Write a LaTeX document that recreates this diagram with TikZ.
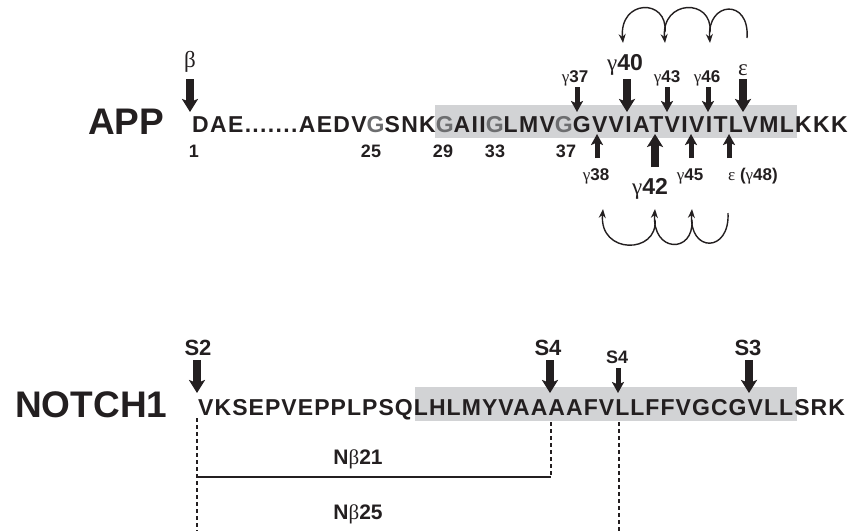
\documentclass[tikz,border=0pt]{standalone}
\usepackage{fontspec}
\setmainfont{Liberation Sans}
\newfontfamily\appfont[LetterSpace=5.8]{Liberation Sans}
\newfontfamily\notchfont[LetterSpace=4.6]{Liberation Sans}
\newfontfamily\grk{Liberation Serif}
\usetikzlibrary{arrows.meta}
\definecolor{tmd}{HTML}{D2D3D5}
\definecolor{glyc}{HTML}{6D6E70}
\definecolor{ink}{HTML}{231F20}
\newcommand{\gam}{{\grk\mdseries γ}}

\begin{document}
\begin{tikzpicture}[x=1pt,y=1pt,color=ink,
  seq/.style={anchor=base west,inner sep=0pt},
  prot/.style={anchor=base west,inner sep=0pt,font=\bfseries\fontsize{37}{37}\selectfont},
  num/.style={anchor=base,inner sep=0pt,font=\bfseries\fontsize{18}{18}\selectfont},
  lab/.style={anchor=base,inner sep=0pt,font=\bfseries\fontsize{17}{17}\selectfont},
  biglab/.style={anchor=base,inner sep=0pt,font=\bfseries\fontsize{23}{23}\selectfont},
  slab/.style={anchor=base,inner sep=0pt,font=\bfseries\fontsize{22}{22}\selectfont},
  bigcut/.style={line width=8pt,-{Stealth[length=13pt,width=16pt,inset=3pt]}},
  cut/.style={line width=5pt,-{Stealth[length=11pt,width=12pt,inset=2.5pt]}},
  loop/.style={line width=1.4pt,-{Stealth[length=9pt,width=7pt]}},
  frag/.style={line width=1.1pt,dash pattern=on 4pt off 3pt}]
  \useasboundingbox (0,0) rectangle (850,-531);

  % APP
  \fill[tmd] (435,-105) rectangle (797,-138);
  \node[prot] (app) at (88,-134) {APP};
  \node[seq,font=\appfont\bfseries\fontsize{23}{23}\selectfont] (appseq) at (192,-132) {DAE.......AEDV\textcolor{glyc}{G}SNK\textcolor{glyc}{G}AII\textcolor{glyc}{G}LMV\textcolor{glyc}{G}GVVIATVIVITLVMLKKK};
  \foreach \x/\n in {194/1,371/25,443/29,495/33,566/37}
    \node[num] (n\n) at (\x,-157) {\n};

  % cleavage sites above
  \node[anchor=base,inner sep=0pt,font=\grk\fontsize{23}{23}\selectfont] (beta) at (190,-67) {β};
  \node[lab] (g37) at (575,-82) {\gam37};
  \node[biglab] (g40) at (625,-70) {\gam40};
  \node[lab] (g43) at (667,-82) {\gam43};
  \node[lab] (g46) at (707,-82) {\gam46};
  \node[anchor=base,inner sep=0pt,font=\grk\fontsize{23}{23}\selectfont] (eps) at (743,-75) {ε};
  \coordinate (beta0) at (190,-79);   \coordinate (beta1) at (190,-112);
  \coordinate (g37a) at (577,-87);    \coordinate (g37b) at (577,-112);
  \coordinate (g40a) at (627,-79);    \coordinate (g40b) at (627,-112);
  \coordinate (g43a) at (667,-87);    \coordinate (g43b) at (667,-112);
  \coordinate (g46a) at (708,-87);    \coordinate (g46b) at (708,-112);
  \coordinate (epsa) at (743,-79);    \coordinate (epsb) at (743,-112);
  \draw[bigcut] (beta0) -- (beta1);
  \draw[cut] (g37a) -- (g37b);
  \draw[bigcut] (g40a) -- (g40b);
  \draw[cut] (g43a) -- (g43b);
  \draw[cut] (g46a) -- (g46b);
  \draw[bigcut] (epsa) -- (epsb);

  % cleavage sites below
  \node[lab] (g38) at (596,-180) {\gam38};
  \node[biglab] (g42) at (650,-194) {\gam42};
  \node[lab] (g45) at (690,-180) {\gam45};
  \node[lab] (g48) at (753,-180) {{\grk\mdseries ε} (\gam48)};
  \coordinate (g38a) at (597,-158);   \coordinate (g38b) at (597,-134);
  \coordinate (g42a) at (655,-167);   \coordinate (g42b) at (655,-134);
  \coordinate (g45a) at (691,-158);   \coordinate (g45b) at (691,-134);
  \coordinate (g48a) at (729,-158);   \coordinate (g48b) at (729,-134);
  \draw[cut] (g38a) -- (g38b);
  \draw[bigcut] (g42a) -- (g42b);
  \draw[cut] (g45a) -- (g45b);
  \draw[cut] (g48a) -- (g48b);

  % product lines, long
  \coordinate (t0) at (747,-38);
  \coordinate (t1) at (710,-43);  \coordinate (t1s) at (710,-32);
  \coordinate (t2) at (665,-43);  \coordinate (t2s) at (665,-32);
  \coordinate (t3) at (623,-43);
  \draw[loop] (t0) .. controls +(3,40) and +(-3,42) .. (t1);
  \draw[loop] (t1s) .. controls +(3,34) and +(-4,44) .. (t2);
  \draw[loop] (t2s) .. controls +(3,34) and +(-4,44) .. (t3);

  % product lines, short
  \coordinate (b0) at (728,-213);
  \coordinate (b1) at (692,-209);  \coordinate (b1s) at (692,-220);
  \coordinate (b2) at (655,-209);  \coordinate (b2s) at (655,-220);
  \coordinate (b3) at (603,-209);
  \draw[loop] (b0) .. controls +(2,-40) and +(-3,-44) .. (b1);
  \draw[loop] (b1s) .. controls +(2,-34) and +(-3,-44) .. (b2);
  \draw[loop] (b2s) .. controls +(3,-34) and +(-4,-46) .. (b3);

  % NOTCH1
  \fill[tmd] (415,-387) rectangle (797,-421);
  \node[prot] (notch) at (15,-417) {NOTCH1};
  \node[seq,font=\notchfont\bfseries\fontsize{23}{23}\selectfont] (notchseq) at (198,-415) {VKSEPVEPPLPSQLHLMYVAAAAFVLLFFVGCGVLLSRK};
  \node[slab] (s2) at (198,-355) {S2};
  \node[slab] (s4) at (548,-355) {S4};
  \node[anchor=base,inner sep=0pt,font=\bfseries\fontsize{18}{18}\selectfont] (s4b) at (617,-363) {S4};
  \node[slab] (s3) at (748,-355) {S3};
  \coordinate (s2a) at (197,-360);  \coordinate (s2b) at (197,-393);
  \coordinate (s4a) at (550,-360);  \coordinate (s4b0) at (550,-393);
  \coordinate (s5a) at (618,-368);  \coordinate (s5b) at (618,-393);
  \coordinate (s3a) at (749,-360);  \coordinate (s3b) at (749,-393);
  \draw[bigcut] (s2a) -- (s2b);
  \draw[bigcut] (s4a) -- (s4b0);
  \draw[cut] (s5a) -- (s5b);
  \draw[bigcut] (s3a) -- (s3b);

  % fragments
  \coordinate (f0) at (197,-418);  \coordinate (f0e) at (197,-531);
  \coordinate (f1) at (551,-422);  \coordinate (f1e) at (551,-477);
  \coordinate (f2) at (619,-422);  \coordinate (f2e) at (619,-531);
  \coordinate (f0m) at (197,-477);
  \draw[frag] (f0) -- (f0e);
  \draw[frag] (f1) -- (f1e);
  \draw[frag] (f2) -- (f2e);
  \draw[line width=1.5pt] (f0m) -- (f1e);
  \node[slab,font=\bfseries\fontsize{21}{21}\selectfont] (nb21) at (358,-464) {N{\grk\mdseries β}21};
  \node[slab,font=\bfseries\fontsize{21}{21}\selectfont] (nb25) at (358,-519) {N{\grk\mdseries β}25};
\end{tikzpicture}
\end{document}
